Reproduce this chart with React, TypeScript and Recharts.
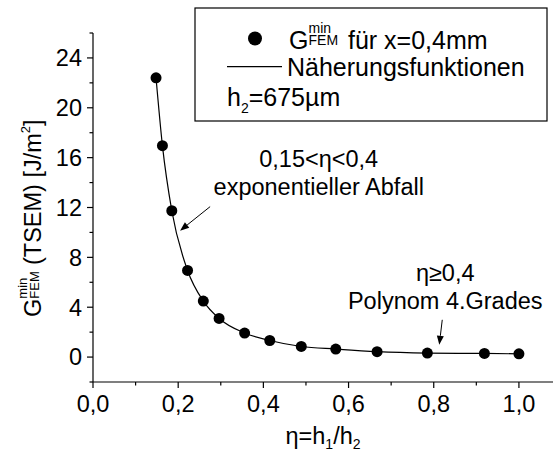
import React from 'react';
import { ComposedChart, Line, XAxis, YAxis, ReferenceLine, ReferenceDot } from 'recharts';

const etaValues = [0.148, 0.163, 0.185, 0.222, 0.259, 0.296, 0.356, 0.415, 0.489, 0.57, 0.667, 0.785, 0.919, 1.0];
const gValues = [22.4, 16.96, 11.74, 6.95, 4.49, 3.1, 1.93, 1.33, 0.85, 0.64, 0.43, 0.32, 0.29, 0.26];

const xMajorTicks = [0, 0.2, 0.4, 0.6, 0.8, 1.0];
const xMinorTicks = [0.1, 0.3, 0.5, 0.7, 0.9];
const yMajorTicks = [0, 4, 8, 12, 16, 20, 24];
const yMinorTicks = [-2, 2, 6, 10, 14, 18, 22, 26];

const arrowExp = [{ x: 0.275, y: 12.07 }, { x: 0.2044, y: 10.14 }];
const arrowPoly = [{ x: 0.82, y: 2.99 }, { x: 0.813, y: 0.99 }];
const expTextPos = { x: 0.53, y1: 15.27, y2: 13.02 };
const polyTextPos = { x: 0.827, y1: 6.07, y2: 3.88 };

const data = etaValues.map((x, i) => ({ x, g: gValues[i] }));

const FONT = '"Liberation Sans", Arial, sans-serif';
const FS = 23.5;
const LFS = 25;

const XTick = (props: any) => {
  const { x, y, payload } = props;
  const v = payload.value;
  const major = xMajorTicks.some((t) => Math.abs(t - v) < 1e-6);
  return (
    <g>
      <line x1={x} x2={x} y1={y} y2={y + (major ? 6 : 3.5)} stroke="#000" strokeWidth={1.2} />
      {major && (
        <text x={x} y={y + 30} textAnchor="middle" fontFamily={FONT} fontSize={FS} fill="#000">
          {v.toFixed(1).replace('.', ',')}
        </text>
      )}
    </g>
  );
};

const YTick = (props: any) => {
  const { x, y, payload } = props;
  const v = payload.value;
  const major = yMajorTicks.includes(v);
  return (
    <g>
      <line x1={x - (major ? 6 : 3.5)} x2={x} y1={y} y2={y} stroke="#000" strokeWidth={1.2} />
      {major && (
        <text x={x - 11} y={y + 8.4} textAnchor="end" fontFamily={FONT} fontSize={FS} fill="#000">
          {v}
        </text>
      )}
    </g>
  );
};

const Arrow = (props: any) => {
  const { x1, y1, x2, y2 } = props;
  const dx = x2 - x1;
  const dy = y2 - y1;
  const len = Math.sqrt(dx * dx + dy * dy) || 1;
  const ux = dx / len;
  const uy = dy / len;
  const hl = 9;
  const hw = 3.5;
  const bx = x2 - ux * hl;
  const by = y2 - uy * hl;
  const pts = `${x2},${y2} ${bx - uy * hw},${by + ux * hw} ${bx + uy * hw},${by - ux * hw}`;
  return (
    <g>
      <line x1={x1} y1={y1} x2={bx} y2={by} stroke="#000" strokeWidth={1} />
      <polygon points={pts} fill="#000" />
    </g>
  );
};

const makeText = (content: React.ReactNode) => (p: any) => (
  <text x={p.cx} y={p.cy} textAnchor="middle" fontFamily={FONT} fontSize={FS} fill="#000">
    {content}
  </text>
);

export default function App() {
  return (
    <div style={{ position: 'absolute', left: 0, top: 0, width: 553, height: 454, background: '#fff' }}>
      <ComposedChart width={553} height={454} data={data} margin={{ top: 33, right: 0, bottom: 0, left: 0 }}>
        <XAxis
          dataKey="x"
          type="number"
          domain={[0, 1.08]}
          ticks={[...xMajorTicks, ...xMinorTicks].sort((a, b) => a - b)}
          interval={0}
          tickLine={false}
          tickSize={0}
          tickMargin={0}
          height={72}
          axisLine={{ stroke: '#000', strokeWidth: 1.2 }}
          tick={<XTick />}
          allowDataOverflow
        />
        <YAxis
          type="number"
          domain={[-2, 26]}
          ticks={[...yMajorTicks, ...yMinorTicks].sort((a, b) => a - b)}
          interval={0}
          tickLine={false}
          tickSize={0}
          tickMargin={0}
          width={93}
          axisLine={{ stroke: '#000', strokeWidth: 1.2 }}
          tick={<YTick />}
          allowDataOverflow
        />
        <Line
          dataKey="g"
          type="monotone"
          stroke="#000"
          strokeWidth={1.2}
          dot={{ r: 5.5, fill: '#000', stroke: '#000', strokeWidth: 0 }}
          isAnimationActive={false}
        />
        <ReferenceLine segment={arrowExp} shape={(p: any) => <Arrow {...p} />} ifOverflow="visible" />
        <ReferenceLine segment={arrowPoly} shape={(p: any) => <Arrow {...p} />} ifOverflow="visible" />
        <ReferenceDot x={expTextPos.x} y={expTextPos.y1} r={0} ifOverflow="visible" shape={makeText('0,15<η<0,4')} />
        <ReferenceDot x={expTextPos.x} y={expTextPos.y2} r={0} ifOverflow="visible" shape={makeText('exponentieller Abfall')} />
        <ReferenceDot x={polyTextPos.x} y={polyTextPos.y1} r={0} ifOverflow="visible" shape={makeText('η≥0,4')} />
        <ReferenceDot x={polyTextPos.x} y={polyTextPos.y2} r={0} ifOverflow="visible" shape={makeText('Polynom 4.Grades')} />
      </ComposedChart>
      <svg width={553} height={454} style={{ position: 'absolute', left: 0, top: 0, pointerEvents: 'none' }}>
        {/* Y axis title */}
        <g transform="translate(41, 317) rotate(-90)" fontFamily={FONT} fill="#000">
          <text x={0} y={0} fontSize={FS}>G</text>
          <text x={18.3} y={-14} fontSize={13}>min</text>
          <text x={18.3} y={-2} fontSize={13}>FEM</text>
          <text x={52} y={0} fontSize={FS}>
            (TSEM) [J/m<tspan fontSize={13} dy={-11}>2</tspan>
            <tspan dy={11}>]</tspan>
          </text>
        </g>
        {/* X axis title */}
        <text x={323} y={444} textAnchor="middle" fontFamily={FONT} fontSize={FS} fill="#000">
          η=h<tspan fontSize={14} dy={5}>1</tspan>
          <tspan dy={-5}>/h</tspan>
          <tspan fontSize={14} dy={5}>2</tspan>
        </text>
        {/* Legend */}
        <rect x={195} y={8} width={352} height={113} fill="#fff" stroke="#000" strokeWidth={1.2} />
        <circle cx={255} cy={38.5} r={7} fill="#000" />
        <g fontFamily={FONT} fill="#000">
          <text x={289} y={48.5} fontSize={LFS}>G</text>
          <text x={308.5} y={32.5} fontSize={14}>min</text>
          <text x={308.5} y={44.5} fontSize={14}>FEM</text>
          <text x={348} y={48.5} fontSize={LFS}>für x=0,4mm</text>
          <text x={287} y={75.5} fontSize={LFS}>Näherungsfunktionen</text>
          <text x={227} y={106} fontSize={LFS}>
            h<tspan fontSize={14} dy={7}>2</tspan>
            <tspan dy={-7}>=675µm</tspan>
          </text>
        </g>
        <line x1={227} x2={282} y1={66.7} y2={66.7} stroke="#000" strokeWidth={1.2} />
      </svg>
    </div>
  );
}
